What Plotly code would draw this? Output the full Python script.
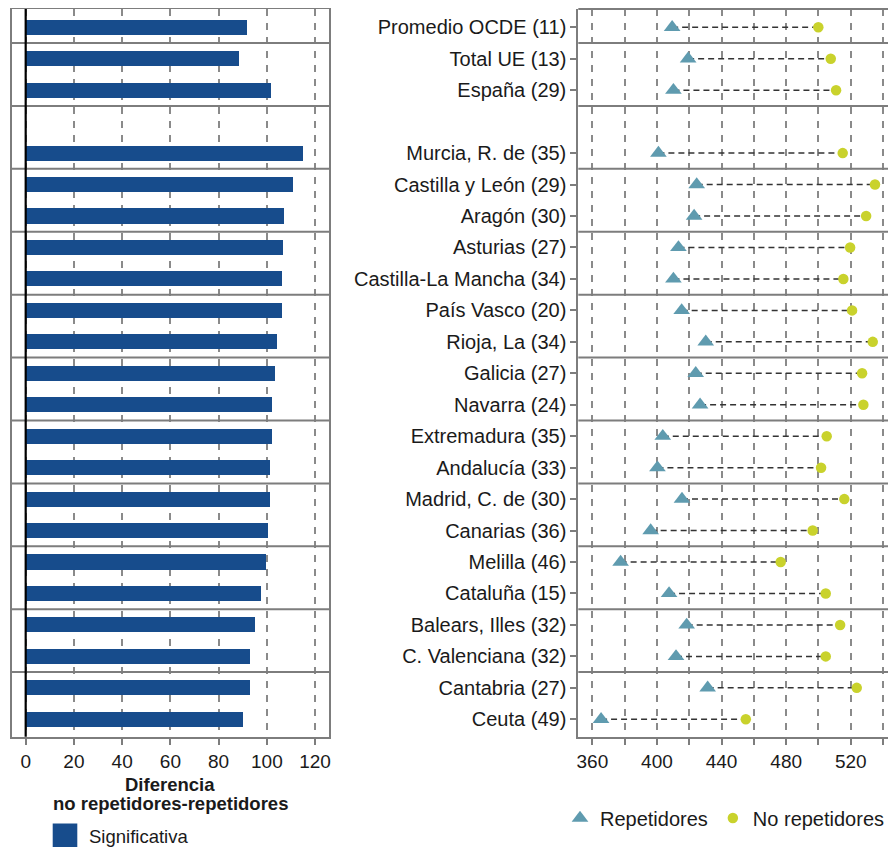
import plotly.graph_objects as go

# ---------------- data ----------------
regiones = ["Promedio OCDE (11)", "Total UE (13)", "España (29)", "Murcia, R. de (35)",
            "Castilla y León (29)", "Aragón (30)", "Asturias (27)", "Castilla-La Mancha (34)",
            "País Vasco (20)", "Rioja, La (34)", "Galicia (27)", "Navarra (24)",
            "Extremadura (35)", "Andalucía (33)", "Madrid, C. de (30)", "Canarias (36)",
            "Melilla (46)", "Cataluña (15)", "Balears, Illes (32)", "C. Valenciana (32)",
            "Cantabria (27)", "Ceuta (49)"]
grupos = [1, 2, 2, 3, 4, 4, 5, 5, 6, 6, 7, 7, 8, 8, 9, 9, 10, 10, 11, 11, 12, 12]
diferencia = [91.5, 88.2, 101.7, 114.7, 110.7, 107.1, 106.4, 106.0, 106.0, 104.1, 103.2,
              102.1, 102.1, 101.2, 101.2, 100.2, 99.5, 97.3, 94.8, 92.9, 92.7, 90.0]
repetidores = [409.4, 419.3, 410.2, 400.9, 424.6, 423.0, 413.3, 410.2, 415.3, 430.2, 424.0,
               426.7, 403.6, 400.3, 415.5, 396.1, 377.5, 407.5, 418.4, 411.8, 431.4, 365.4]
no_repetidores = [499.9, 507.6, 510.9, 515.0, 535.0, 529.5, 519.6, 515.4, 520.8, 533.6, 527.0,
                  527.8, 505.1, 501.6, 516.0, 496.4, 476.6, 504.5, 513.4, 504.5, 523.7, 455.0]
fila_en_blanco_tras = "España (29)"
ticks_izq = [0, 20, 40, 60, 80, 100, 120]
ticks_der = [360, 380, 400, 420, 440, 460, 480, 500, 520, 540]

# ---------------- styles ----------------
FONT = "Liberation Sans, Arial, sans-serif"
TXT = "#1a1a1a"
FRAME = "#7d7d7d"
GRID = "#8a8a8a"
BLUE = "#174c8c"
TRI = "#5f9baf"
DOT = "#c9d22c"
OFF = 8                      # page body margin of the html page
W, H = 896 - OFF, 848 - OFF


def px(v):
    return (v - OFF) / W


def py(v):
    return 1 - (v - OFF) / H


# row positions (a blank row after España)
pos = []
shift = 0
for i, r in enumerate(regiones):
    pos.append(i + shift)
    if r == fila_en_blanco_tras:
        shift += 1

seps = [pos[i] + 0.5 for i in range(len(regiones) - 1) if grupos[i] != grupos[i + 1]]

yrange = [pos[-1] + 0.553, -0.582]
ydom = [py(736.7), py(9)]
xdom1 = [px(11.7), px(329.3)]
xdom2 = [px(578.3), 1.0]

fig = go.Figure()

fig.add_trace(go.Bar(x=diferencia, y=pos, orientation="h", width=0.48,
                     marker=dict(color=BLUE, line=dict(width=0)),
                     showlegend=False, xaxis="x", yaxis="y", hoverinfo="x"))

lx, ly = [], []
for a, b, p in zip(repetidores, no_repetidores, pos):
    lx += [a, b, None]
    ly += [p, p, None]
fig.add_trace(go.Scatter(x=lx, y=ly, mode="lines",
                         line=dict(color="#333333", width=1.5, dash="6px,4px"),
                         showlegend=False, xaxis="x2", yaxis="y2", hoverinfo="skip"))
fig.add_trace(go.Scatter(x=repetidores, y=pos, mode="markers", name="Repetidores",
                         marker=dict(symbol="triangle-up", size=14.5, color=TRI),
                         xaxis="x2", yaxis="y2"))
fig.add_trace(go.Scatter(x=no_repetidores, y=pos, mode="markers", name="No repetidores",
                         marker=dict(symbol="circle", size=10.5, color=DOT),
                         xaxis="x2", yaxis="y2"))

shapes = []
for s in seps:
    for xr, yr in (("x domain", "y"), ("x2 domain", "y2")):
        shapes.append(dict(type="line", xref=xr, yref=yr, x0=0, x1=1, y0=s, y1=s,
                           line=dict(color=FRAME, width=2), layer="above"))
# zero line on the left panel
shapes.append(dict(type="line", xref="x", yref="y domain", x0=0, x1=0, y0=0, y1=1,
                   line=dict(color="#000000", width=2.2), layer="above"))
# top border of right panel
shapes.append(dict(type="line", xref="x2 domain", yref="y2 domain", x0=0, x1=1, y0=1, y1=1,
                   line=dict(color=FRAME, width=2), layer="above"))
# legend swatch for bars
shapes.append(dict(type="rect", xref="paper", yref="paper",
                   x0=px(52.7), x1=px(77.3), y0=py(847), y1=py(823.5),
                   fillcolor=BLUE, line=dict(width=0)))

annotations = [
    dict(text="<b>Diferencia</b>", x=px(170), y=py(784), xref="paper", yref="paper",
         showarrow=False, xanchor="center", yanchor="middle",
         font=dict(family=FONT, size=18.5, color=TXT)),
    dict(text="<b>no repetidores-repetidores</b>", x=px(170), y=py(803), xref="paper",
         yref="paper", showarrow=False, xanchor="center", yanchor="middle",
         font=dict(family=FONT, size=18.5, color=TXT)),
    dict(text="Significativa", x=px(87), y=py(836), xref="paper", yref="paper",
         showarrow=False, xanchor="left", yanchor="middle",
         font=dict(family=FONT, size=18.5, color=TXT)),
]

fig.update_layout(
    width=W, height=H,
    margin=dict(l=0, r=0, t=0, b=0),
    paper_bgcolor="white", plot_bgcolor="white",
    font=dict(family=FONT, color=TXT, size=19),
    shapes=shapes, annotations=annotations,
    bargap=0,
    xaxis=dict(domain=xdom1, range=[-5.8, 125.9], tickvals=ticks_izq,
               showgrid=True, gridcolor=GRID, griddash="7px,7px", gridwidth=1.5,
               zeroline=False, showline=True, linecolor=FRAME, linewidth=2, mirror=True,
               ticks="outside", ticklen=6, tickcolor=FRAME, tickwidth=1.5,
               tickfont=dict(size=19, color=TXT), automargin=False, fixedrange=True),
    yaxis=dict(domain=ydom, range=yrange, showticklabels=False, showgrid=False,
               zeroline=False, showline=True, linecolor=FRAME, linewidth=2, mirror=True,
               ticks="", automargin=False, fixedrange=True),
    xaxis2=dict(domain=xdom2, anchor="y2", range=[351.3, 548.0], tickvals=ticks_der,
                ticktext=[str(v) if v % 40 == 0 else "" for v in ticks_der],
                showgrid=True, gridcolor=GRID, griddash="7px,7px", gridwidth=1.5,
                zeroline=False, showline=True, linecolor=FRAME, linewidth=2,
                ticks="outside", ticklen=6, tickcolor=FRAME, tickwidth=1.5,
                tickfont=dict(size=19, color=TXT), automargin=False, fixedrange=True),
    yaxis2=dict(domain=ydom, anchor="x2", range=yrange, tickvals=pos, ticktext=regiones,
                showgrid=False, zeroline=False, showline=True, linecolor=FRAME, linewidth=2,
                ticks="outside", ticklen=6, tickcolor=FRAME, tickwidth=1.5,
                tickfont=dict(size=20, color=TXT), automargin=False, fixedrange=True),
    legend=dict(orientation="h", x=px(560), y=py(818), xanchor="left", yanchor="middle",
                font=dict(family=FONT, size=20, color=TXT), bgcolor="rgba(0,0,0,0)",
                itemclick=False, itemdoubleclick=False),
    showlegend=True,
)

fig.write_html("out.html")
